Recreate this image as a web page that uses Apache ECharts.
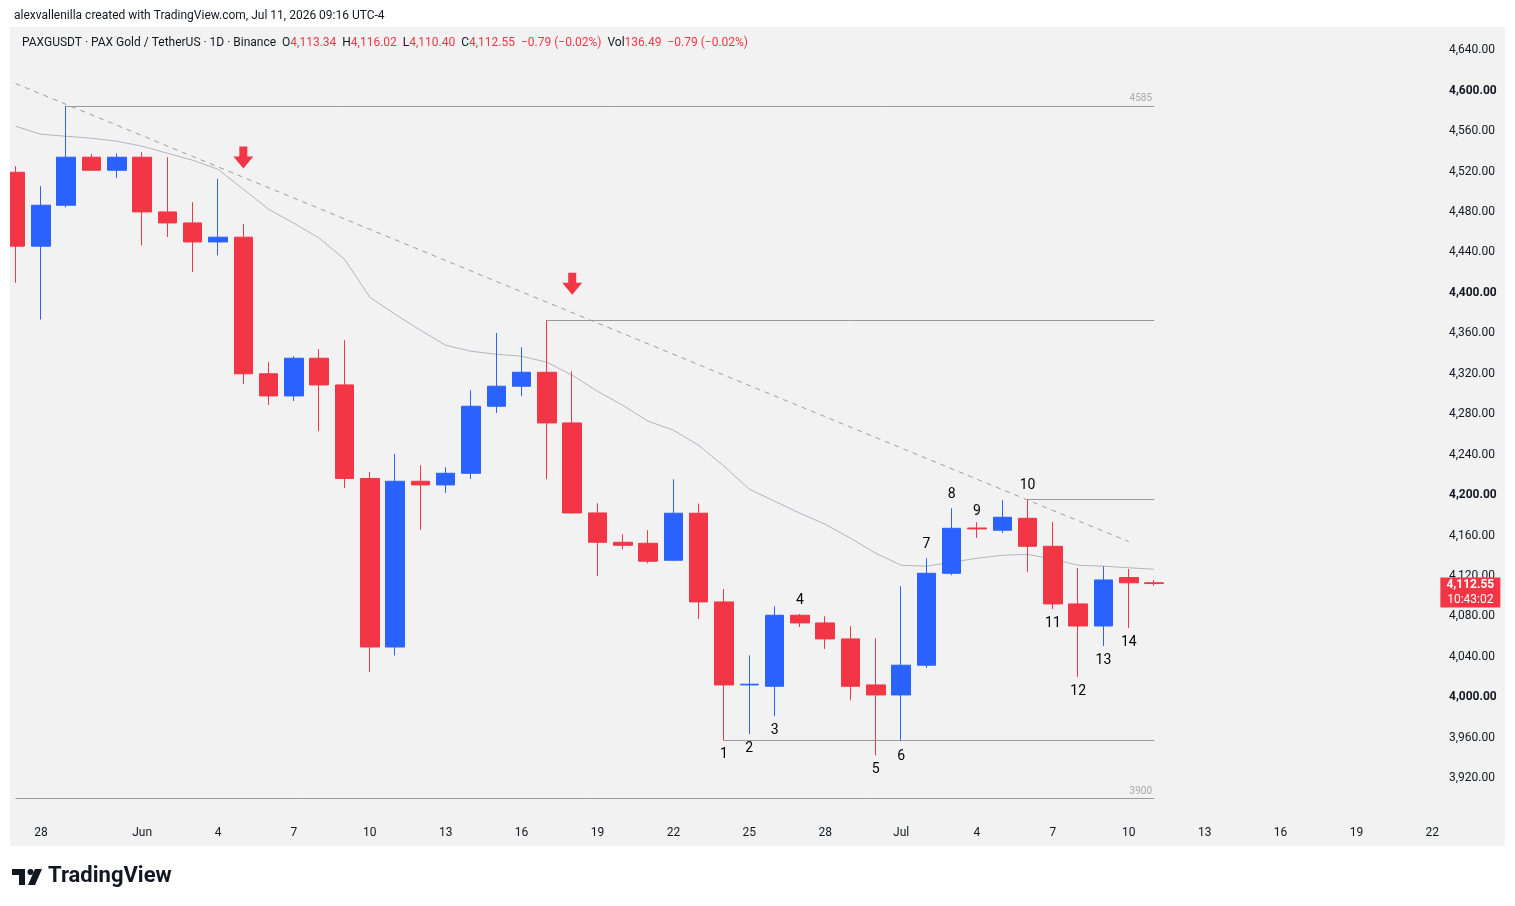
<!DOCTYPE html>
<html>
<head>
<meta charset="utf-8">
<title>PAXGUSDT 1D</title>
<script src="https://cdn.jsdelivr.net/npm/echarts@6/dist/echarts.min.js"></script>
<style>
  html, body { margin: 0; padding: 0; background: #ffffff; }
  #myCharts { width: 1515px; height: 906px; }
</style>
</head>
<body>
<div id="myCharts"></div>
<script>
// one category per calendar day, May 27 .. Jul 22
var days = [
  '05-27', '05-28', '05-29', '05-30', '05-31',
  '06-01', '06-02', '06-03', '06-04', '06-05', '06-06', '06-07', '06-08', '06-09', '06-10',
  '06-11', '06-12', '06-13', '06-14', '06-15', '06-16', '06-17', '06-18', '06-19', '06-20',
  '06-21', '06-22', '06-23', '06-24', '06-25', '06-26', '06-27', '06-28', '06-29', '06-30',
  '07-01', '07-02', '07-03', '07-04', '07-05', '07-06', '07-07', '07-08', '07-09', '07-10',
  '07-11', '07-12', '07-13', '07-14', '07-15', '07-16', '07-17', '07-18', '07-19', '07-20',
  '07-21', '07-22'
];

// daily candles, May 27 .. Jul 11
var opens = [
  4519.3, 4446.2, 4486.7, 4534.2, 4521.3, 4534.2, 4480.1, 4469.2, 4450.4, 4455.1,
  4320.0, 4298.1, 4335.4, 4309.0, 4216.5, 4049.8, 4213.7, 4210.1, 4221.6, 4287.9,
  4307.7, 4321.5, 4271.4, 4182.4, 4153.4, 4152.4, 4135.6, 4182.1, 4094.4, 4012.3,
  4011.0, 4081.2, 4073.6, 4057.8, 4012.3, 4002.4, 4031.8, 4122.7, 4167.5, 4165.3,
  4177.1, 4149.4, 4092.4, 4070.6, 4118.5, 4113.34
];
var closes = [
  4446.2, 4486.7, 4534.2, 4521.3, 4534.2, 4480.1, 4469.2, 4450.4, 4455.1, 4320.0,
  4298.1, 4335.4, 4309.0, 4216.5, 4049.8, 4213.7, 4210.1, 4221.6, 4287.9, 4307.7,
  4321.5, 4271.4, 4182.4, 4153.4, 4150.4, 4134.6, 4182.1, 4094.4, 4012.3, 4013.0,
  4081.2, 4073.6, 4057.8, 4011.0, 4002.4, 4031.8, 4122.7, 4167.2, 4166.6, 4178.1,
  4149.4, 4092.4, 4070.6, 4116.1, 4113.3, 4112.55
];
var lows = [
  4409.9, 4373.7, 4484.5, 4521.0, 4513.7, 4447.1, 4455.3, 4420.7, 4437.3, 4310.0,
  4289.2, 4293.1, 4263.5, 4207.1, 4025.1, 4041.4, 4165.6, 4202.2, 4216.0, 4281.3,
  4297.8, 4216.0, 4182.0, 4119.8, 4146.5, 4132.6, 4134.6, 4077.5, 3957.3, 3963.8,
  3981.3, 4069.6, 4047.9, 3997.1, 3942.7, 3956.6, 4029.1, 4120.8, 4157.7, 4162.6,
  4124.0, 4087.4, 4020.2, 4050.8, 4068.6, 4110.40
];
var highs = [
  4525.3, 4505.5, 4584.8, 4537.4, 4538.0, 4539.1, 4534.2, 4489.7, 4512.7, 4468.2,
  4331.4, 4337.4, 4344.3, 4353.2, 4222.9, 4240.7, 4229.6, 4227.6, 4303.7, 4360.4,
  4346.3, 4373.0, 4322.5, 4192.0, 4161.3, 4165.3, 4215.7, 4191.7, 4107.2, 4041.6,
  4090.1, 4082.5, 4080.2, 4070.3, 4058.5, 4109.9, 4137.6, 4187.0, 4173.2, 4194.9,
  4195.9, 4173.2, 4128.0, 4129.7, 4127.0, 4116.02
];

// moving average drawn over the candles
var maValues = [
  4564.8, 4556.9, 4554.9, 4553.0, 4550.0, 4545.1, 4538.1, 4531.2, 4522.3, 4502.5,
  4482.7, 4468.9, 4454.1, 4433.3, 4395.7, 4378.9, 4363.1, 4348.2, 4342.3, 4339.3,
  4337.4, 4331.4, 4318.6, 4302.7, 4288.9, 4273.1, 4264.2, 4249.3, 4228.6, 4205.8,
  4194.0, 4182.1, 4171.2, 4157.4, 4142.5, 4130.7, 4129.7, 4133.6, 4137.6, 4140.5,
  4141.5, 4136.6, 4130.7, 4129.7, 4128.2, 4126.7
];

// drawings
var trendDays = ['05-27', '07-10'];
var trendValues = [4607, 4154];
var levelStarts = ['05-29', '06-17', '07-06', '06-24', '05-27'];
var levelValues = [4585, 4373, 4195.9, 3957.3, 3900];
var levelTags = ['4585', '', '', '', '3900'];
var levelEnd = '07-11';
var arrowDays = ['06-05', '06-18'];
var arrowValues = [4534, 4409];
var countDays = ['06-24', '06-25', '06-26', '06-27', '06-30', '07-01', '07-02',
                 '07-03', '07-04', '07-06', '07-07', '07-08', '07-09', '07-10'];
var countValues = [3943.7, 3949.7, 3967.5, 4096.0, 3928.9, 3941.8, 4151.4,
                   4200.9, 4184.1, 4209.8, 4073.3, 4006.0, 4036.7, 4054.5];

var xTickDays = ['05-28', '06-01', '06-04', '06-07', '06-10', '06-13', '06-16', '06-19', '06-22', '06-25',
                 '06-28', '07-01', '07-04', '07-07', '07-10', '07-13', '07-16', '07-19', '07-22'];
var xTickTexts = ['28', 'Jun', '4', '7', '10', '13', '16', '19', '22', '25',
                  '28', 'Jul', '4', '7', '10', '13', '16', '19', '22'];

var lastPrice = 4112.55;
var countdown = '10:43:02';

var RED = '#f23645';
var BLUE = '#2962ff';
var TEXT = '#131722';
var FONT = 'Roboto, "Liberation Sans", sans-serif';

var candles = [];
for (var i = 0; i < opens.length; i++) {
  candles.push([opens[i], closes[i], lows[i], highs[i]]);
}

var levelLines = [];
for (var j = 0; j < levelValues.length; j++) {
  levelLines.push([
    { coord: [levelStarts[j], levelValues[j]], name: levelTags[j] },
    { coord: [levelEnd, levelValues[j]] }
  ]);
}

var arrows = arrowDays.map(function (d, k) { return [d, arrowValues[k]]; });
var counts = countDays.map(function (d, k) { return [d, countValues[k], String(k + 1)]; });
var trend = trendDays.map(function (d, k) { return [d, trendValues[k]]; });

function fmtPrice(v) {
  return v.toLocaleString('en-US', { minimumFractionDigits: 2, maximumFractionDigits: 2 });
}

var option = {
  animation: false,
  backgroundColor: '#ffffff',
  textStyle: { fontFamily: FONT },
  title: [
    {
      text: 'alexvallenilla created with TradingView.com, Jul 11, 2026 09:16 UTC-4',
      left: 9, top: 5,
      textStyle: { fontSize: 12, fontWeight: 'normal', color: TEXT, fontFamily: FONT }
    },
    {
      text: '{d|PAXGUSDT · PAX Gold / TetherUS · 1D · Binance}  {d|O}{r|4,113.34}  {d|H}{r|4,116.02}  {d|L}{r|4,110.40}  {d|C}{r|4,112.55}  {r|−0.79 (−0.02%)}  {d|Vol}{r|136.49}  {r|−0.79 (−0.02%)}',
      left: 17, top: 32,
      textStyle: {
        fontSize: 12,
        fontWeight: 'normal',
        rich: {
          d: { fontSize: 12, fontWeight: 'normal', color: TEXT, fontFamily: FONT },
          r: { fontSize: 12, fontWeight: 'normal', color: RED, fontFamily: FONT }
        }
      }
    }
  ],
  graphic: [
    { type: 'rect', z: -10, shape: { x: 10, y: 27, width: 1495, height: 819 }, style: { fill: '#f2f2f2' } },
    // white margin left of the chart panel, above the plot
    { type: 'rect', z: 100, shape: { x: 0, y: 27, width: 10, height: 819 }, style: { fill: '#ffffff' } },
    { type: 'rect', z: -10, shape: { x: 12, y: 869, width: 13, height: 6 }, style: { fill: '#131722' } },
    { type: 'rect', z: -10, shape: { x: 19, y: 869, width: 6, height: 16 }, style: { fill: '#131722' } },
    { type: 'circle', z: -10, shape: { cx: 30.5, cy: 872, r: 3 }, style: { fill: '#131722' } },
    { type: 'polygon', z: -10, shape: { points: [[35, 869], [42, 869], [35, 885], [28, 885]] }, style: { fill: '#131722' } },
    {
      type: 'text', left: 48, top: 865,
      style: { text: 'TradingView', fill: '#131722', fontSize: 22, fontWeight: 'bold', fontFamily: FONT }
    }
  ],
  grid: { left: 3, right: 70, top: 30, bottom: 87.3 },
  xAxis: {
    type: 'category',
    data: days,
    boundaryGap: true,
    axisLine: { show: false },
    axisTick: { show: false },
    splitLine: { show: false },
    axisLabel: {
      color: TEXT,
      fontSize: 12,
      margin: 8,
      interval: function (index, value) { return xTickDays.indexOf(value) >= 0; },
      formatter: function (value) { return xTickTexts[xTickDays.indexOf(value)]; }
    }
  },
  yAxis: {
    type: 'value',
    position: 'right',
    min: 3880,
    max: 4660,
    interval: 40,
    scale: true,
    axisLine: { show: false },
    axisTick: { show: false },
    splitLine: { show: false },
    axisLabel: {
      margin: 4,
      showMinLabel: false,
      showMaxLabel: false,
      color: TEXT,
      fontSize: 12,
      formatter: function (v) {
        return v % 200 === 0 ? '{b|' + fmtPrice(v) + '}' : fmtPrice(v);
      },
      rich: { b: { fontSize: 12, fontWeight: 'bold', color: TEXT, fontFamily: FONT } }
    }
  },
  series: [
    {
      name: 'MA',
      type: 'line',
      data: maValues,
      symbol: 'none',
      z: 1,
      lineStyle: { color: '#b2b5be', width: 1 }
    },
    {
      name: 'Trend',
      type: 'line',
      data: trend,
      symbol: 'none',
      z: 1,
      lineStyle: { color: '#9e9e9e', width: 1, type: [5, 5] },
      markLine: {
        silent: true,
        symbol: ['none', 'none'],
        lineStyle: { color: '#9a9a9a', width: 1, type: 'solid' },
        label: {
          show: true,
          position: 'insideEndTop',
          formatter: '{b}',
          color: '#a8a8a8',
          fontSize: 10,
          distance: 2
        },
        data: levelLines
      }
    },
    {
      name: 'PAXGUSDT',
      type: 'candlestick',
      data: candles,
      barWidth: 19,
      z: 3,
      itemStyle: {
        color: BLUE,
        color0: RED,
        borderColor: BLUE,
        borderColor0: RED,
        borderWidth: 1
      },
      markPoint: {
        symbol: 'rect',
        symbolSize: [60, 30],
        symbolOffset: [38, 9],
        itemStyle: { color: RED },
        label: {
          show: true,
          position: 'inside',
          formatter: '{a|' + fmtPrice(lastPrice) + '}\n{b|' + countdown + '}',
          rich: {
            a: { color: '#ffffff', fontSize: 12, fontWeight: 'bold', lineHeight: 15, fontFamily: FONT },
            b: { color: '#ffffff', fontSize: 12, lineHeight: 15, fontFamily: FONT }
          }
        },
        data: [{ coord: [days[days.length - 1], lastPrice] }]
      }
    },
    {
      name: 'Arrows',
      type: 'scatter',
      data: arrows,
      z: 4,
      symbol: 'path://M3,0 L7,0 L7,5 L10,5 L5,11 L0,5 L3,5 Z',
      symbolSize: [20, 22],
      itemStyle: { color: RED, opacity: 1 }
    },
    {
      name: 'Counts',
      type: 'scatter',
      data: counts,
      z: 4,
      symbolSize: 0,
      itemStyle: { opacity: 1 },
      label: {
        show: true,
        position: 'inside',
        color: '#000000',
        fontSize: 14,
        formatter: function (p) { return p.data[2]; }
      }
    }
  ]
};

var myChart = echarts.init(document.getElementById('myCharts'));
myChart.setOption(option);
</script>
</body>
</html>
